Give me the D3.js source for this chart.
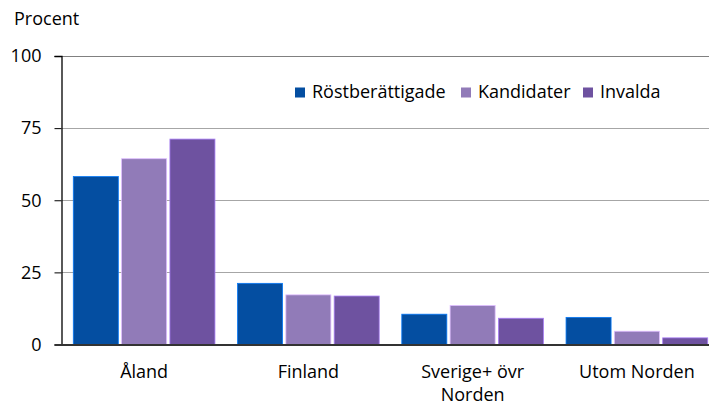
<!DOCTYPE html>
<html>
<head>
<meta charset="utf-8">
<script src="https://cdn.jsdelivr.net/npm/d3@7"></script>
<style>
  body { margin: 0; background: #fff; }
  text { font-family: "Open Sans", sans-serif; fill: #000; }
</style>
</head>
<body>
<svg id="svg" width="709" height="407"></svg>
<script>
var categories = [["Åland"], ["Finland"], ["Sverige+ övr", "Norden"], ["Utom Norden"]];
var seriesNames = ["Röstberättigade", "Kandidater", "Invalda"];
var rostberattigade = [58.2, 21.2, 10.5, 9.4];
var kandidater = [64.4, 17.2, 13.5, 4.6];
var invalda = [71.2, 16.8, 9.1, 2.3];
var yTicks = [0, 25, 50, 75, 100];

var series = [rostberattigade, kandidater, invalda];
var colors = ["#044ea1", "#917bb8", "#6e52a0"];

var svg = d3.select("#svg");
// plot area runs past the right edge of the picture, as in the original
var mLeft = 62, mRight = 719, mTop = 56, mBottom = 344.5;
var fontSize = "18px";

var x = d3.scaleBand()
    .domain(d3.range(categories.length))
    .range([mLeft, mRight])
    .paddingInner(0.1376)
    .paddingOuter(0.0688);

var xs = d3.scaleBand()
    .domain(d3.range(series.length))
    .range([0, x.bandwidth()])
    .paddingInner(0.068);

var y = d3.scaleLinear().domain([0, 100]).range([mBottom, mTop]);

// gridlines
svg.append("g").selectAll("line")
  .data(yTicks.filter(function(d){ return d > 0; }))
  .enter().append("line")
    .attr("x1", mLeft).attr("x2", mRight)
    .attr("y1", function(d){ return Math.round(y(d)) + 0.5; })
    .attr("y2", function(d){ return Math.round(y(d)) + 0.5; })
    .attr("stroke", function(d){ return d === 100 ? "#808080" : "#a6a6a6"; })
    .attr("stroke-width", 1.2);

// y axis
var yAxis = d3.axisLeft(y).tickValues(yTicks).tickSize(7).tickPadding(13);
var ga = svg.append("g")
    .attr("transform", "translate(" + (mLeft - 0.5) + ",0)")
    .call(yAxis);
ga.select(".domain").attr("stroke", "#000").attr("stroke-width", 1.3);
ga.selectAll(".tick line").attr("stroke", "#000");
ga.selectAll(".tick text").style("font-size", fontSize).style("font-family", "'Open Sans', sans-serif").attr("fill", "#000");

// bars
series.forEach(function(vals, s) {
  svg.append("g").selectAll("rect")
    .data(vals)
    .enter().append("rect")
      .attr("x", function(d, i){ return x(i) + xs(s); })
      .attr("width", xs.bandwidth())
      .attr("y", function(d){ return y(d); })
      .attr("height", function(d){ return y(0) - y(d); })
      .attr("fill", colors[s])
      .attr("stroke", d3.color(colors[s]).brighter(1.2))
      .attr("stroke-width", 0.8);
});

// x axis line
svg.append("line")
  .attr("x1", mLeft - 7).attr("x2", mRight)
  .attr("y1", mBottom + 0.5).attr("y2", mBottom + 0.5)
  .attr("stroke", "#333").attr("stroke-width", 2);

// category labels
categories.forEach(function(lines, i) {
  var t = svg.append("text")
    .attr("x", x(i) + x.bandwidth() / 2)
    .attr("y", 378)
    .attr("text-anchor", "middle")
    .style("font-size", fontSize);
  lines.forEach(function(l, j) {
    t.append("tspan")
      .attr("x", x(i) + x.bandwidth() / 2)
      .attr("dy", j === 0 ? 0 : 23)
      .text(l);
  });
});

// y title
svg.append("text")
  .attr("x", 14).attr("y", 25)
  .style("font-size", fontSize)
  .text("Procent");

// legend
var lx = [295, 461, 583];
var legend = svg.append("g").selectAll("g")
  .data(seriesNames)
  .enter().append("g")
    .attr("transform", function(d, i){ return "translate(" + lx[i] + ",87.5)"; });
legend.append("rect")
  .attr("width", 10).attr("height", 10)
  .attr("fill", function(d, i){ return colors[i]; });
legend.append("text")
  .attr("x", 17).attr("y", 10)
  .style("font-size", fontSize)
  .text(function(d){ return d; });
</script>
</body>
</html>
